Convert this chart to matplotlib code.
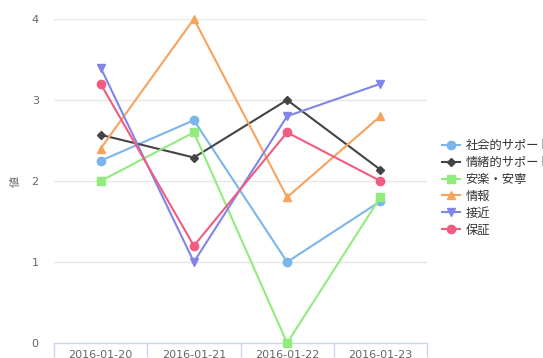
import matplotlib
matplotlib.use("Agg")
import matplotlib.pyplot as plt
from matplotlib.ticker import FixedLocator

plt.rcParams['font.family'] = ['Noto Sans CJK JP', 'DejaVu Sans']

dates = ["2016-01-20", "2016-01-21", "2016-01-22", "2016-01-23"]
social_support = [2.25, 2.75, 1.0, 1.75]
emotional_support = [2.57, 2.29, 3.0, 2.14]
comfort = [2.0, 2.6, 0.0, 1.8]
information = [2.4, 4.0, 1.8, 2.8]
approach = [3.4, 1.0, 2.8, 3.2]
assurance = [3.2, 1.2, 2.6, 2.0]

series = [
    ("社会的サポート", social_support, "#7cb5ec", "o", 6),
    ("情緒的サポート", emotional_support, "#434348", "D", 4.5),
    ("安楽・安寧", comfort, "#90ed7d", "s", 5.5),
    ("情報", information, "#f7a35c", "^", 6),
    ("接近", approach, "#8085e9", "v", 6),
    ("保証", assurance, "#f15c80", "o", 6),
]

fig = plt.figure(figsize=(5.43, 3.58), dpi=100)
ax = fig.add_axes([54 / 543, 15 / 358, 373 / 543, 324 / 358])

x = list(range(len(dates)))
for name, vals, color, marker, ms in series:
    ax.plot(x, vals, color=color, lw=1.5, marker=marker, markersize=ms,
            label=name, clip_on=False, zorder=3)

ax.set_xlim(-0.5, len(dates) - 0.5)
ax.set_ylim(0, 4)
ax.set_yticks([0, 1, 2, 3, 4])
ax.grid(axis='y', color='#e6e6e6', lw=1)
ax.set_axisbelow(True)

for s in ['top', 'right', 'left']:
    ax.spines[s].set_visible(False)
ax.spines['bottom'].set_color('#ccd6eb')
ax.spines['bottom'].set_linewidth(1)

ax.set_xticks(x)
ax.set_xticklabels(dates, family='DejaVu Sans')
ax.xaxis.set_minor_locator(FixedLocator([i - 0.5 for i in range(len(dates) + 1)]))
ax.tick_params(axis='x', which='major', length=0, pad=5, labelsize=8, labelcolor='#666666')
ax.tick_params(axis='x', which='minor', length=10, color='#ccd6eb', width=1)
ax.tick_params(axis='y', length=0, pad=11, labelsize=8, labelcolor='#666666')
for lbl in ax.get_yticklabels():
    lbl.set_family('DejaVu Sans')

ax.set_ylabel("値", fontsize=8, color='#666666', labelpad=8)

fig.legend(loc='upper left', bbox_to_anchor=(442 / 543, 1 - 139 / 358),
           frameon=False, fontsize=8.8, handlelength=1.5, handletextpad=0.45,
           labelspacing=0.32, borderaxespad=0, borderpad=0, labelcolor='#333333')

fig.savefig("out.png", dpi=100)
